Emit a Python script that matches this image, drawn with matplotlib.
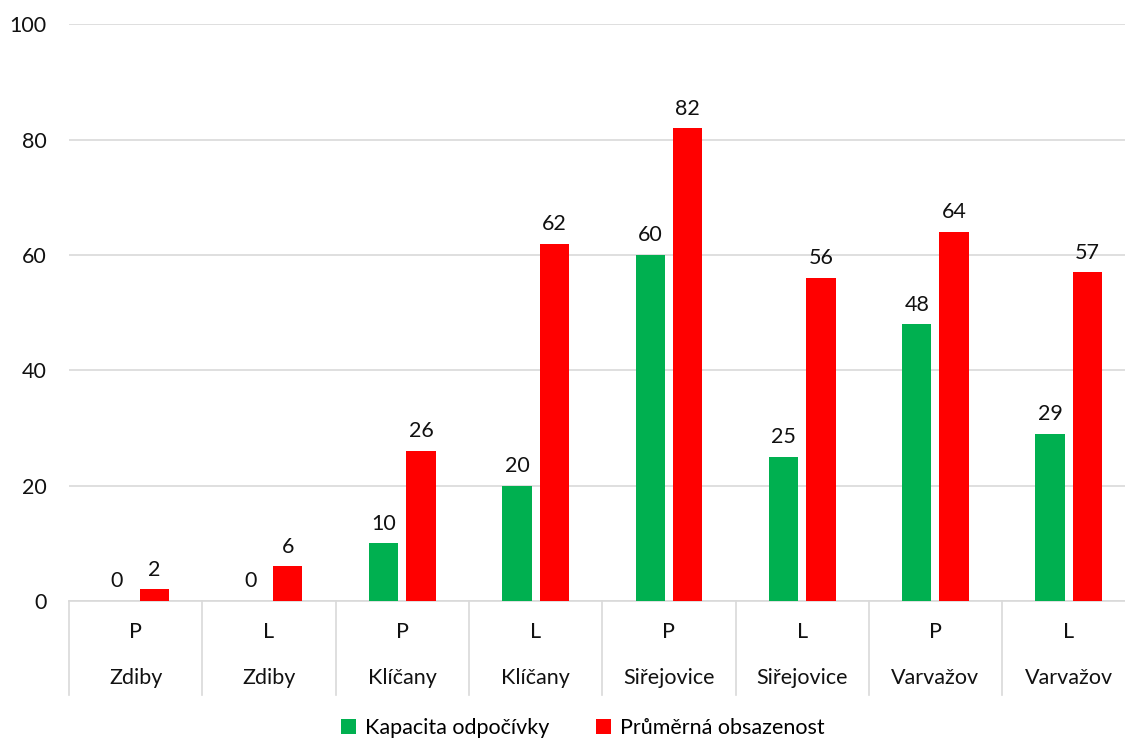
import matplotlib.pyplot as plt
import matplotlib.transforms as mtransforms
import numpy as np

plt.rcParams['font.family'] = ['Lato', 'DejaVu Sans']

# sides of each rest area and the village it belongs to
sides = ['P', 'L', 'P', 'L', 'P', 'L', 'P', 'L']
places = ['Zdiby', 'Zdiby', 'Klíčany', 'Klíčany', 'Siřejovice', 'Siřejovice',
          'Varvažov', 'Varvažov']
capacity = [0, 0, 10, 20, 60, 25, 48, 29]
occupancy = [2, 6, 26, 62, 82, 56, 64, 57]

GREEN = '#00b050'
RED = '#ff0000'
GRID = '#d9d9d9'
TXT = '#111111'
fs = 15.5

fig = plt.figure(figsize=(11.25, 7.4), dpi=100)
ax = fig.add_axes([0.0613, 0.1878, 0.948, 0.7791])

x = np.arange(len(sides))
w = 0.22
off = 0.14
b1 = ax.bar(x - off, capacity, w, color=GREEN, label='Kapacita odpočívky', zorder=3)
b2 = ax.bar(x + off, occupancy, w, color=RED, label='Průměrná obsazenost', zorder=3)

for bars, vals in ((b1, capacity), (b2, occupancy)):
    for rect, v in zip(bars, vals):
        ax.annotate(f'{v:d}', (rect.get_x() + rect.get_width() / 2, v),
                    xytext=(0, 7), textcoords='offset points',
                    ha='center', va='bottom', fontsize=fs, color=TXT)

ax.set_ylim(0, 100)
ax.set_xlim(-0.5, len(sides) - 0.5)
ax.set_yticks(range(0, 101, 20))
ax.tick_params(axis='y', length=0, pad=16, labelsize=fs, labelcolor=TXT)
ax.set_xticks([])
ax.grid(axis='y', color=GRID, linewidth=1.2, zorder=0)
for s in ['top', 'right', 'left']:
    ax.spines[s].set_visible(False)
ax.spines['bottom'].set_color(GRID)
ax.spines['bottom'].set_linewidth(1.2)

# two-level category axis with separators
trans = mtransforms.blended_transform_factory(ax.transData, ax.transAxes)
for b in np.arange(-0.5, len(sides), 1.0):
    ax.plot([b, b], [0, -0.163], transform=trans, color=GRID, lw=1.2,
            clip_on=False)
for i in x:
    ax.text(i, -0.054, sides[i], transform=trans, ha='center', va='center',
            fontsize=fs, color=TXT)
    ax.text(i, -0.133, places[i], transform=trans, ha='center', va='center',
            fontsize=fs, color=TXT)

fig.legend(handles=[b1, b2], loc='center', bbox_to_anchor=(0.518, 0.016),
           ncol=2, frameon=False, fontsize=fs, handlelength=0.7,
           handleheight=0.7, handletextpad=0.4, columnspacing=2.2)

fig.savefig('out.png', dpi=100)
